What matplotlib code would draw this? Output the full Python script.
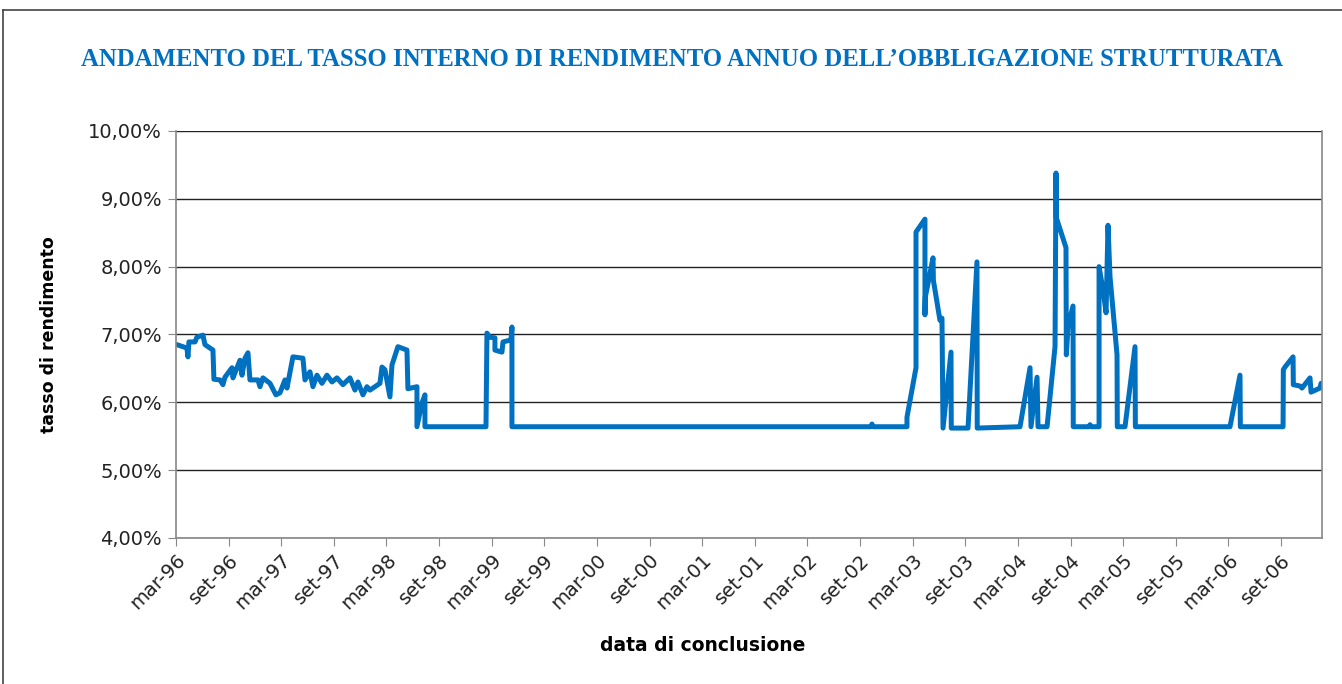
import numpy as np
import matplotlib.pyplot as plt
from matplotlib.lines import Line2D
from matplotlib.ticker import FuncFormatter

# months elapsed since march 1996
mesi = [0.11, 1.25, 1.37, 1.48, 2.17, 2.39, 3.08, 3.31, 3.88, 4.22, 4.33, 5.02, 5.36, 5.59,
        6.39, 6.50, 7.30, 7.53, 7.87, 8.21, 8.44, 9.35, 9.58, 9.92, 10.72, 11.40, 11.86,
        12.43, 12.66, 13.34, 14.48, 14.71, 15.28, 15.62, 16.08, 16.65, 17.22, 17.79, 18.36,
        19.04, 19.84, 20.41, 20.75, 21.32, 21.78, 22.12, 22.69, 23.26, 23.49, 23.83, 24.40,
        24.63, 25.31, 26.34, 26.45, 27.48, 27.48, 28.05, 28.39, 28.39,
        35.35, 35.46, 35.80, 36.37, 36.37, 37.17, 37.29, 38.20, 38.31, 38.31,
        79.25, 79.36, 79.48, 83.35, 83.35, 84.38, 84.38, 85.40, 85.40, 85.44, 86.32, 86.36,
        87.11, 87.34, 87.46, 88.37, 88.40, 90.31, 91.33, 91.36,
        96.24, 97.38, 97.49, 98.18, 98.29, 99.32, 100.23, 100.34, 100.38, 101.48, 101.52,
        101.71, 102.28, 102.31, 104.10, 104.22, 104.34, 105.25, 105.25, 105.70, 106.05,
        106.27, 106.50, 107.30, 107.33, 108.21, 109.35, 109.39,
        120.18, 121.32, 121.36, 126.23, 126.26, 126.45, 127.37, 127.40, 128.16, 128.39,
        129.30, 129.42, 130.44, 130.56]
tasso = [6.85, 6.80, 6.67, 6.89, 6.89, 6.96, 6.99, 6.85, 6.80, 6.77, 6.34, 6.33, 6.26, 6.37,
         6.51, 6.36, 6.62, 6.40, 6.65, 6.73, 6.33, 6.33, 6.23, 6.36, 6.28, 6.11, 6.14,
         6.33, 6.21, 6.67, 6.65, 6.33, 6.45, 6.23, 6.40, 6.28, 6.40, 6.30, 6.36,
         6.26, 6.36, 6.18, 6.30, 6.11, 6.23, 6.18, 6.23, 6.28, 6.52, 6.48, 6.08,
         6.55, 6.82, 6.77, 6.20, 6.23, 5.64, 5.99, 6.11, 5.64,
         5.64, 7.02, 6.96, 6.95, 6.77, 6.74, 6.89, 6.92, 7.11, 5.64,
         5.64, 5.68, 5.64, 5.64, 5.78, 6.51, 8.51, 8.70, 7.29, 7.55, 8.13, 7.80,
         7.21, 7.24, 5.62, 6.74, 5.62, 5.62, 8.07, 5.62,
         5.64, 6.51, 5.64, 6.37, 5.64, 5.64, 6.82, 9.38, 8.72, 8.28, 6.70,
         7.11, 7.42, 5.64, 5.64, 5.67, 5.64, 5.64, 8.00, 7.66, 7.32,
         8.61, 7.85, 6.70, 5.64, 5.64, 6.82, 5.64,
         5.64, 6.40, 5.64, 5.64, 6.48, 6.52, 6.67, 6.26, 6.24, 6.21,
         6.36, 6.15, 6.21, 6.28]

etichette = ['mar-96', 'set-96', 'mar-97', 'set-97', 'mar-98', 'set-98', 'mar-99', 'set-99',
             'mar-00', 'set-00', 'mar-01', 'set-01', 'mar-02', 'set-02', 'mar-03', 'set-03',
             'mar-04', 'set-04', 'mar-05', 'set-05', 'mar-06', 'set-06']

blu = '#0070c0'

fig = plt.figure(figsize=(13.42, 6.84), dpi=100)
ax = fig.add_axes([0.1311, 0.2135, 0.8540, 0.5950])

ax.plot(mesi, tasso, color=blu, linewidth=3.6, solid_joinstyle='round', solid_capstyle='round')

ax.set_xlim(0, 130.67)
ax.set_ylim(4, 10)
ax.set_yticks(np.arange(4, 10.1, 1))
ax.yaxis.set_major_formatter(FuncFormatter(lambda v, p: f'{v:.2f}%'.replace('.', ',')))
ax.set_xticks(np.arange(len(etichette)) * 6)
ax.set_xticklabels(etichette, rotation=45, ha='right', rotation_mode='anchor')

ax.grid(axis='y', color='#222222', linewidth=1.0)
ax.set_axisbelow(True)
ax.tick_params(axis='both', direction='out', length=6, color='#888888',
               labelsize=14, labelcolor='#222222', pad=4)
ax.tick_params(axis='x', pad=3)
ax.spines['top'].set_visible(False)
for s in ['left', 'bottom', 'right']:
    ax.spines[s].set_color('#888888')
    ax.spines[s].set_linewidth(1.2)

ax.set_ylabel('tasso di rendimento', fontsize=12.5, fontweight='bold')
ax.yaxis.set_label_coords(-0.103, 0.5)
ax.set_xlabel('data di conclusione', fontsize=13.5, fontweight='bold')
ax.xaxis.set_label_coords(0.46, -0.241)

fig.text(0.508, 0.913, 'ANDAMENTO DEL TASSO INTERNO DI RENDIMENTO ANNUO DELL\u2019OBBLIGAZIONE STRUTTURATA',
         ha='center', va='center', fontsize=17.8, fontweight='bold', color=blu,
         family='Liberation Serif')

# cornice esterna
fig.add_artist(Line2D([3 / 1342, 1], [1 - 10 / 684, 1 - 10 / 684], color='#444444', linewidth=1.2))
fig.add_artist(Line2D([3 / 1342, 3 / 1342], [0, 1 - 10 / 684], color='#444444', linewidth=1.2))

fig.savefig('out.png', dpi=100)
